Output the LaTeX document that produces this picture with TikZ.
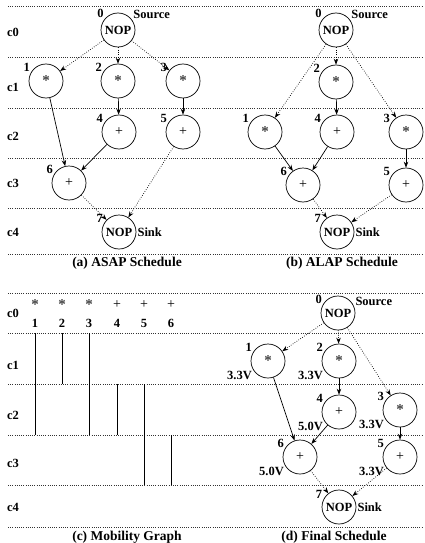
\documentclass[tikz,border=0pt]{standalone}
\usepackage{fontspec}
\setmainfont{Liberation Serif}
\usetikzlibrary{arrows.meta}
\begin{document}
\begin{tikzpicture}[x=1pt,y=-1pt,
  every node/.style={font=\fontsize{12.5}{14}\selectfont\bfseries},
  op/.style={draw, circle, minimum size=34pt, inner sep=0pt, line width=0.7pt},
  lbl/.style={inner sep=1pt, font=\fontsize{12.5}{14}\selectfont\bfseries},
  num/.style={label={[lbl]150:#1}},
  volt/.style={label={[lbl]210:#1}},
  gridline/.style={line width=0.55pt, dash pattern=on 0.7pt off 1.5pt, black!80},
  dep/.style={-{Stealth[length=6pt,width=4.5pt]}, line width=0.7pt},
  dotdep/.style={dep, dash pattern=on 0.7pt off 1.6pt},
  bar/.style={line width=0.8pt},
  captxt/.style={font=\fontsize{13.5}{15}\selectfont\bfseries},
  rowlbl/.style={anchor=center}
]
\useasboundingbox (0,0) rectangle (424,543);

\newcommand{\mul}{\raisebox{-2.5pt}{\fontsize{15}{16}\selectfont\bfseries\color{black!75}*}}
\newcommand{\add}{{\fontsize{14}{16}\selectfont\mdseries +}}

% ---------- horizontal step boundaries ----------
\foreach \yy in {6,57,108,158,208,254,293,333,384,435,485,527}
  \draw[gridline] (8,\yy) -- (422,\yy);

% ---------- control step labels ----------
\foreach \yy/\t [count=\i] in {32/c0,87/c1,136/c2,183/c3,232/c4}
  \node[rowlbl] (rt\i) at (13,\yy) {\t};
\foreach \yy/\t [count=\i] in {313/c0,365/c1,415/c2,463/c3,507/c4}
  \node[rowlbl] (rb\i) at (13,\yy) {\t};

% ---------- (a) ASAP schedule ----------
\node[op, label={[lbl]140:0}, label={[lbl]35:Source}] (a0) at (118,30) {NOP};
\node[op, num=1] (a1) at (46,81)  {\mul};
\node[op, num=2] (a2) at (118,81) {\mul};
\node[op, num=3] (a3) at (183,81) {\mul};
\node[op, num=4] (a4) at (119,132) {\add};
\node[op, num=5] (a5) at (183,132) {\add};
\node[op, num=6] (a6) at (69,183) {\add};
\node[op, label={[lbl]150:7}, label={[lbl]0:Sink}] (a7) at (119,232) {NOP};
\draw[dotdep] (a0) -- (a1);
\draw[dotdep] (a0) -- (a2);
\draw[dotdep] (a0) -- (a3);
\draw[dep] (a1) -- (a6);
\draw[dep] (a2) -- (a4);
\draw[dep] (a3) -- (a5);
\draw[dep] (a4) -- (a6);
\draw[dotdep] (a6) -- (a7);
\draw[dotdep] (a5) -- (a7);
\node[captxt] (capa) at (127,263) {(a) ASAP Schedule};

% ---------- (b) ALAP schedule ----------
\node[op, label={[lbl]140:0}, label={[lbl]35:Source}] (b0) at (336,30) {NOP};
\node[op, num=2] (b2) at (336,82)  {\mul};
\node[op, num=1] (b1) at (265,132) {\mul};
\node[op, num=4] (b4) at (337,132) {\add};
\node[op, num=3] (b3) at (406,132) {\mul};
\node[op, num=6] (b6) at (303,185) {\add};
\node[op, num=5] (b5) at (406,185) {\add};
\node[op, label={[lbl]150:7}, label={[lbl]0:Sink}] (b7) at (337,232) {NOP};
\draw[dotdep] (b0) -- (b1);
\draw[dotdep] (b0) -- (b2);
\draw[dotdep] (b0) -- (b3);
\draw[dep] (b2) -- (b4);
\draw[dep] (b1) -- (b6);
\draw[dep] (b4) -- (b6);
\draw[dep] (b3) -- (b5);
\draw[dotdep] (b6) -- (b7);
\draw[dotdep] (b5) -- (b7);
\node[captxt] (capb) at (342,263) {(b) ALAP Schedule};

% ---------- (c) mobility graph ----------
\foreach \xx/\s/\n in {35/\mul/1,62/\mul/2,89/\mul/3,117/\add/4,144/\add/5,171/\add/6}{
  \node (ms\n) at (\xx,305) {\s};
  \node (mn\n) at (\xx,323) {\n};
}
\draw[bar] (35,333) -- (35,435);
\draw[bar] (62,333) -- (62,384);
\draw[bar] (89,333) -- (89,435);
\draw[bar] (117,384) -- (117,435);
\draw[bar] (144,384) -- (144,485);
\draw[bar] (171,435) -- (171,485);
\node[captxt] (capc) at (127,537) {(c) Mobility Graph};

% ---------- (d) final schedule ----------
\node[op, label={[lbl]150:0}, label={[lbl]20:Source}] (d0) at (338,313) {NOP};
\node[op, num=1, volt=3.3V] (d1) at (268,361) {\mul};
\node[op, num=2, volt=3.3V] (d2) at (339,361) {\mul};
\node[op, num=4, volt=5.0V] (d4) at (339,412) {\add};
\node[op, num=3, volt=3.3V] (d3) at (400,410) {\mul};
\node[op, num=6, volt=5.0V] (d6) at (300,457) {\add};
\node[op, num=5, volt=3.3V] (d5) at (400,457) {\add};
\node[op, label={[lbl]155:7}, label={[lbl]0:Sink}] (d7) at (339,507) {NOP};
\draw[dotdep] (d0) -- (d1);
\draw[dotdep] (d0) -- (d2);
\draw[dotdep] (d0) -- (d3);
\draw[dep] (d2) -- (d4);
\draw[dep] (d1) -- (d6);
\draw[dep] (d4) -- (d6);
\draw[dep] (d3) -- (d5);
\draw[dotdep] (d6) -- (d7);
\draw[dotdep] (d5) -- (d7);
\node[captxt] (capd) at (334,537) {(d) Final Schedule};
\end{tikzpicture}
\end{document}
